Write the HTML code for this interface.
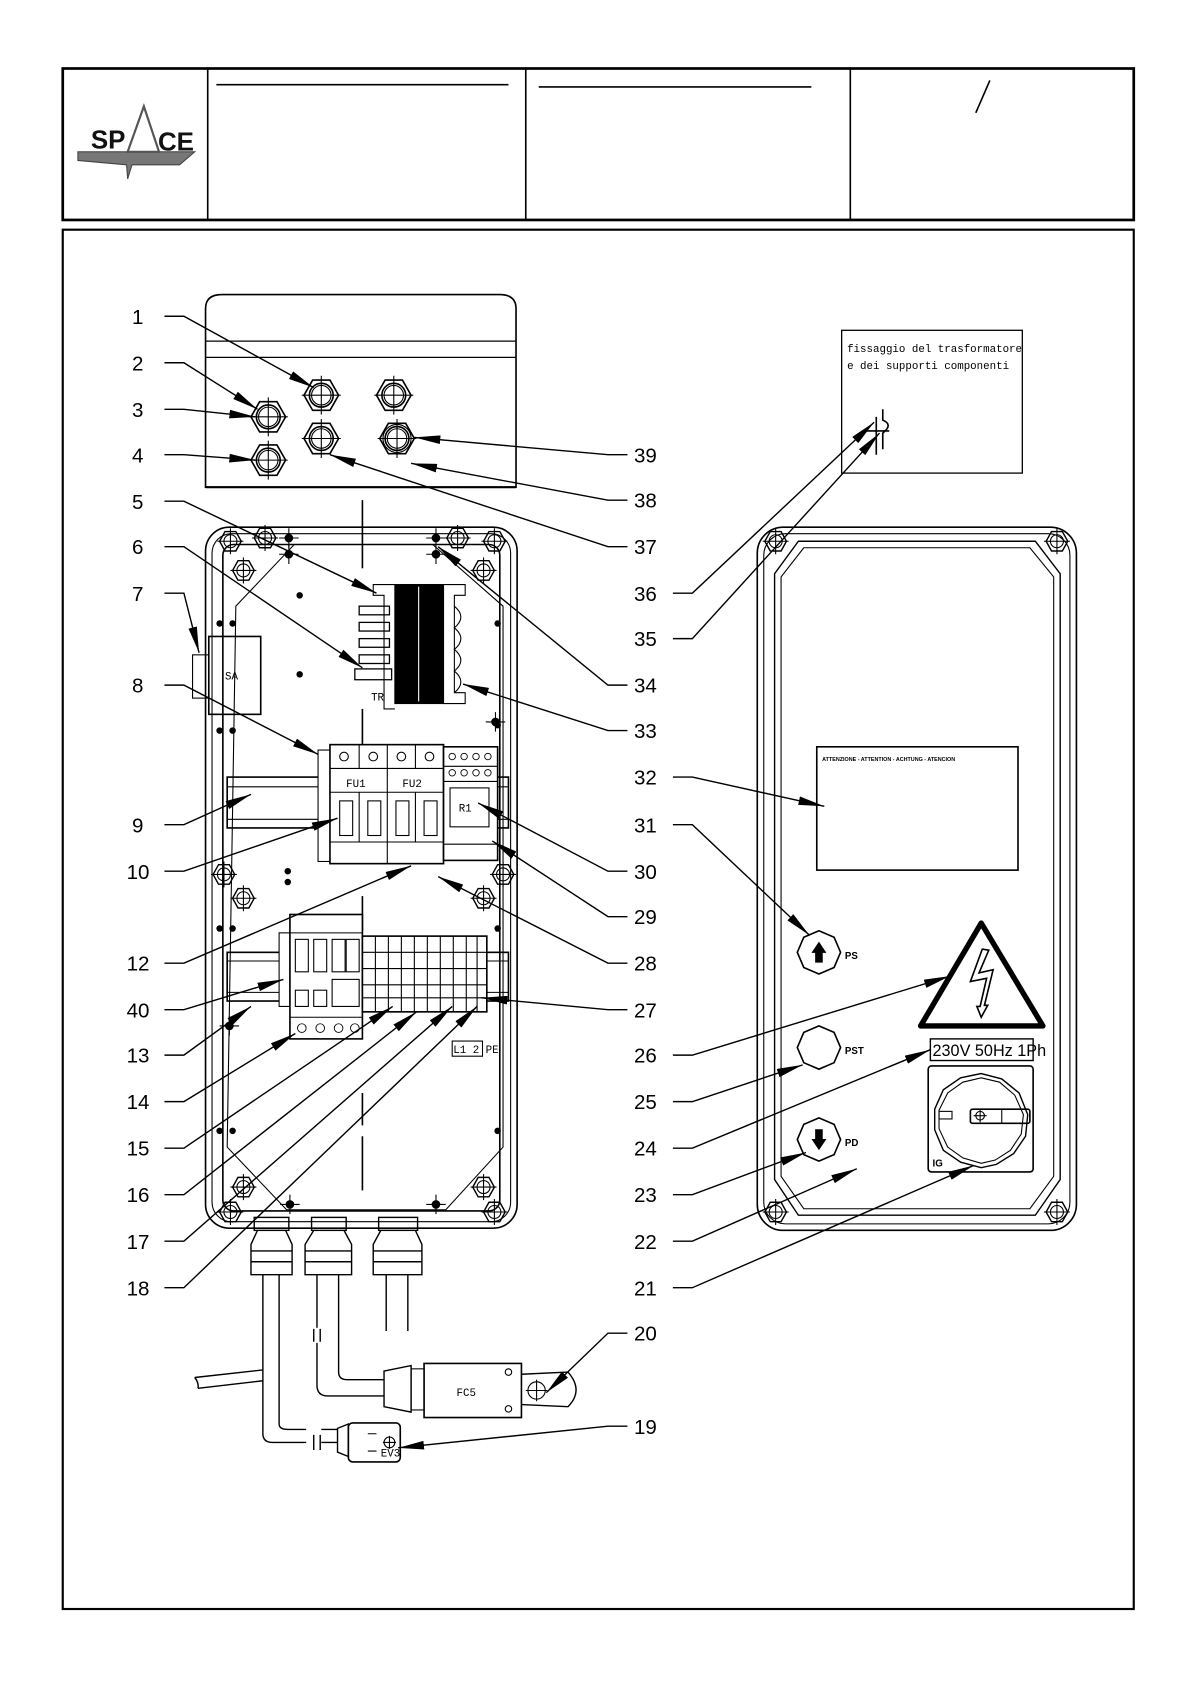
<!DOCTYPE html>
<html><head><meta charset="utf-8"><style>
html,body{margin:0;padding:0;background:#fff}
svg{display:block}
text{font-family:"Liberation Sans",sans-serif}
.n{font-size:19px}
.s{font-size:10px;font-family:"Liberation Mono",monospace}
</style></head><body>
<svg width="1190" height="1684" viewBox="0 0 1100 1556" xmlns="http://www.w3.org/2000/svg" fill="none" stroke="#000">
<defs>
<marker id="a" viewBox="0 0 24 8" refX="24" refY="4" markerWidth="24" markerHeight="8" markerUnits="userSpaceOnUse" orient="auto"><path d="M0,0 L24,4 L0,8 Z" fill="#000" stroke="none"/></marker>
<g id="gl"><polygon points="16,0 8,14 -8,14 -16,0 -8,-14 8,-14" stroke-width="1.5"/><circle r="11" stroke-width="1.5"/><circle r="9"/><path d="M-18,0H18M0,-18V18"/></g>
<g id="sc"><polygon points="10,0 5,9 -5,9 -10,0 -5,-9 5,-9" stroke-width="1.3"/><circle r="6"/><path d="M-12,0H12M0,-12V12"/></g>
<g id="dot"><circle r="3.5" fill="#000"/><path d="M-9,0H9M0,-9V9"/></g>
</defs>
<!-- header -->
<rect x="58" y="63" width="990" height="140" stroke-width="2.5"/>
<path d="M192,63V203M486,63V203M786,63V203" stroke-width="1.5"/>
<path d="M200,78H470M498,80H750" stroke-width="1.5"/>
<path d="M915,74L902,104" stroke-width="1.5"/>
<g>
<path d="M72,140 L180,140 L166,152 L122,152 L118,165 L117,152 L72,148 Z" fill="#777" stroke="#444"/>
<path d="M118,140 L133,98 L147,140 Z" fill="#fff" stroke="#555" stroke-width="2"/>
<text x="84" y="137" font-size="24" font-weight="bold" fill="#111" stroke="none" style="font-family:'Liberation Sans Narrow','Liberation Sans',sans-serif">SP</text>
<text x="146" y="139" font-size="24" font-weight="bold" fill="#111" stroke="none" style="font-family:'Liberation Sans Narrow','Liberation Sans',sans-serif">CE</text>
</g>
<!-- main frame -->
<rect x="58" y="212" width="990" height="1275" stroke-width="2"/>

<!-- top view box -->
<path d="M190,450 V285 Q190,272 205,272 H462 Q477,272 477,285 V450 Z" stroke-width="1.5"/>
<path d="M190,315H477M190,330H477" stroke-width="1.2"/>
<path d="M190,450H477" stroke-width="2"/>
<use href="#gl" x="297" y="365"/><use href="#gl" x="364" y="365"/>
<use href="#gl" x="248" y="385"/><use href="#gl" x="248" y="425"/>
<use href="#gl" x="297" y="405"/><use href="#gl" x="367" y="405"/>
<circle cx="367" cy="405" r="13"/>
<path d="M335,462V525" stroke-width="1.5"/>

<!-- main enclosure -->
<rect x="190" y="487" width="288" height="648" rx="22" stroke-width="1.5"/>
<rect x="196" y="493" width="276" height="636" rx="18"/>
<rect x="206" y="503" width="256" height="616" rx="10" stroke-width="1.5"/>
<path d="M218,560 L272,503 H400 L465,560 V1060 L412,1118 H265 L210,1060 Z"/>
<use href="#sc" x="213" y="500"/><use href="#sc" x="457" y="500"/>
<use href="#sc" x="213" y="1120"/><use href="#sc" x="457" y="1120"/>
<use href="#sc" x="225" y="527"/><use href="#sc" x="447" y="527"/>
<use href="#sc" x="225" y="830"/><use href="#sc" x="447" y="830"/>
<use href="#sc" x="207" y="808"/><use href="#sc" x="465" y="808"/>
<use href="#sc" x="245" y="497"/><use href="#sc" x="423" y="497"/>
<use href="#sc" x="225" y="1097"/><use href="#sc" x="447" y="1097"/>
<use href="#dot" x="267" y="497"/><use href="#dot" x="267" y="512"/>
<use href="#dot" x="403" y="497"/><use href="#dot" x="403" y="512"/>
<use href="#dot" x="458" y="667"/><use href="#dot" x="212" y="948"/>
<use href="#dot" x="268" y="1113"/><use href="#dot" x="403" y="1113"/>
<g fill="#000" stroke="none">
<circle cx="203" cy="576" r="3"/><circle cx="215" cy="576" r="3"/><circle cx="203" cy="675" r="3"/><circle cx="215" cy="675" r="3"/>
<circle cx="460" cy="576" r="3"/><circle cx="460" cy="670" r="3"/><circle cx="203" cy="858" r="3"/><circle cx="215" cy="858" r="3"/>
<circle cx="460" cy="858" r="3"/><circle cx="203" cy="1045" r="3"/><circle cx="215" cy="1045" r="3"/><circle cx="460" cy="1045" r="3"/>
<circle cx="266" cy="805" r="3"/><circle cx="266" cy="815" r="3"/><circle cx="277" cy="550" r="3"/><circle cx="277" cy="623" r="3"/>
</g>
<!-- SA -->
<rect x="178" y="605" width="15" height="40"/>
<rect x="193" y="588" width="48" height="72" stroke-width="1.5"/>
<text x="208" y="628" class="s" fill="#000" stroke="none">SA</text>
<!-- transformer -->
<rect x="365" y="540" width="45" height="110" fill="#000"/>
<path d="M387,542V648" stroke="#fff"/>
<path d="M365,540H345V550H355V655H365M410,540H430V550H420V640H430V650H410"/>
<path d="M420,560 q12,10 0,20 q12,10 0,20 q12,10 0,20 q12,10 0,20"/>
<g stroke-width="1.2"><rect x="332" y="560" width="28" height="8"/><rect x="332" y="575" width="28" height="8"/><rect x="332" y="590" width="28" height="8"/><rect x="332" y="605" width="28" height="8"/><rect x="328" y="618" width="34" height="10"/></g>
<text x="343" y="647" class="s" fill="#000" stroke="none">TR</text>
<path d="M335,655V700" stroke-width="1.5"/>
<!-- DIN rail 1 -->
<rect x="210" y="718" width="260" height="47" stroke-width="1.5"/><path d="M210,727H470M210,757H470"/>
<!-- fuse block -->
<rect x="294" y="693" width="12" height="103" fill="#fff"/>
<rect x="305" y="688" width="105" height="110" fill="#fff" stroke-width="1.5"/>
<path d="M305,710H410M305,732H410M332,688V710M358,688V798M384,688V710M305,778H410M332,732V778M384,732V778"/>
<circle cx="318" cy="699" r="4"/><circle cx="345" cy="699" r="4"/><circle cx="371" cy="699" r="4"/><circle cx="397" cy="699" r="4"/>
<text x="320" y="727" class="s" fill="#000" stroke="none">FU1</text><text x="372" y="727" class="s" fill="#000" stroke="none">FU2</text>
<rect x="314" y="740" width="12" height="32"/><rect x="340" y="740" width="12" height="32"/><rect x="366" y="740" width="12" height="32"/><rect x="392" y="740" width="12" height="32"/>
<!-- R1 -->
<rect x="410" y="690" width="50" height="105" fill="#fff" stroke-width="1.5"/><path d="M410,708H460M410,722H460M410,780H460"/>
<rect x="416" y="728" width="36" height="36"/><text x="424" y="750" class="s" fill="#000" stroke="none">R1</text>
<g stroke-width="0.8"><circle cx="418" cy="699" r="3"/><circle cx="429" cy="699" r="3"/><circle cx="440" cy="699" r="3"/><circle cx="451" cy="699" r="3"/><circle cx="418" cy="714" r="3"/><circle cx="429" cy="714" r="3"/><circle cx="440" cy="714" r="3"/><circle cx="451" cy="714" r="3"/></g>
<path d="M335,828V860" stroke-width="1.5"/>
<!-- DIN rail 2 -->
<rect x="210" y="880" width="260" height="45" stroke-width="1.5"/><path d="M210,888H470M210,917H470"/>
<!-- contactor -->
<rect x="258" y="862" width="10" height="68" fill="#fff"/>
<rect x="268" y="845" width="67" height="115" fill="#fff" stroke-width="1.5"/>
<path d="M268,862H335M268,940H335"/>
<rect x="273" y="868" width="12" height="30"/><rect x="290" y="868" width="12" height="30"/><rect x="307" y="868" width="12" height="30"/><rect x="320" y="868" width="12" height="30"/>
<rect x="273" y="915" width="12" height="15"/><rect x="290" y="915" width="12" height="15"/><rect x="307" y="905" width="25" height="25"/>
<g stroke-width="0.8"><circle cx="279" cy="950" r="4"/><circle cx="296" cy="950" r="4"/><circle cx="313" cy="950" r="4"/><circle cx="328" cy="950" r="4"/></g>
<!-- terminals -->
<rect x="335" y="865" width="115" height="70" fill="#fff" stroke-width="1.5"/>
<path d="M335,880H450M335,895H450M335,910H450M335,922H450M347,865V935M359,865V935M371,865V935M383,865V935M395,865V935M407,865V935M419,865V935M431,865V935M441,865V935"/>
<rect x="418" y="962" width="28" height="14"/><text x="419" y="973" class="s" fill="#000" stroke="none" font-size="8">L1 2 PE</text>
<path d="M335,1010V1040M335,1050V1100" stroke-width="1.5"/>
<!-- bottom glands -->
<g stroke-width="1.3">
<rect x="235" y="1125" width="32" height="12"/><path d="M238,1137 L232,1150 L232,1178 L270,1178 L270,1150 L264,1137"/><path d="M232,1156H270M232,1166H270"/>
<rect x="288" y="1125" width="32" height="12"/><path d="M290,1137 L282,1150 L282,1178 L325,1178 L325,1150 L318,1137"/><path d="M282,1156H325M282,1166H325"/>
<rect x="350" y="1125" width="36" height="12"/><path d="M352,1137 L345,1150 L345,1178 L390,1178 L390,1150 L384,1137"/><path d="M345,1156H390M345,1166H390"/>
</g>
<!-- cables -->
<path d="M243,1178 V1325 Q243,1333 252,1333 H283" stroke-width="1.3"/>
<path d="M258,1178 V1316 Q258,1321 266,1321 H283" stroke-width="1.3"/>
<path d="M290,1326V1340M296,1326V1340M290,1228V1240M296,1228V1240" stroke-width="1.3"/>
<path d="M180,1273 L243,1266 M183,1283 L243,1276 M180,1273 q4,5 3,10" stroke-width="1.3"/>
<path d="M293,1178 V1227 M293,1241 V1280 Q293,1290 303,1290 H355 M313,1178 V1268 Q313,1275 321,1275 H355" stroke-width="1.3"/>
<path d="M297,1333 H312 M297,1321 H312" stroke-width="1.3"/>
<path d="M357,1178 V1230 M377,1178 V1230" stroke-width="1.3"/>
<!-- FC5 -->
<path d="M355,1267 L380,1262 V1305 L355,1300 Z" stroke-width="1.3"/>
<rect x="380" y="1265" width="12" height="38"/>
<rect x="392" y="1260" width="90" height="50" stroke-width="1.5"/>
<text x="422" y="1290" class="s" fill="#000" stroke="none">FC5</text>
<path d="M482,1270 L525,1268 Q540,1285 525,1300 L482,1298" stroke-width="1.3"/>
<circle cx="496" cy="1285" r="8"/><path d="M486,1285H506M496,1275V1295"/>
<circle cx="470" cy="1268" r="3"/><circle cx="470" cy="1302" r="3"/>
<!-- EV3 -->
<path d="M312,1320 L322,1316 V1346 L312,1342 Z" stroke-width="1.3"/>
<rect x="322" y="1315" width="48" height="36" rx="4" stroke-width="1.5"/>
<text x="352" y="1346" class="s" fill="#000" stroke="none">EV3</text>
<path d="M340,1325H348M340,1341H348"/><circle cx="360" cy="1333" r="5"/><path d="M354,1333H366M360,1327V1339"/>

<!-- detail box -->
<rect x="778" y="305" width="167" height="132" stroke-width="1.2"/>
<text x="783" y="325" class="s" fill="#000" stroke="none">fissaggio del trasformatore</text>
<text x="783" y="341" class="s" fill="#000" stroke="none">e dei supporti componenti</text>
<path d="M810,385 V420 M816,378 V388 Q826,392 816,400 V415 M800,398 H822" stroke-width="1.5"/>

<!-- right panel -->
<rect x="700" y="487" width="295" height="650" rx="24" stroke-width="1.5"/>
<rect x="706" y="493" width="283" height="638" rx="20"/>
<path d="M738,500 L716,530 V1090 L738,1123 H957 L980,1090 V530 L957,500 Z" stroke-width="1.3"/>
<path d="M743,506 L722,533 V1087 L743,1117 H952 L974,1087 V533 L952,506 Z"/>
<use href="#sc" x="717" y="500"/><use href="#sc" x="977" y="500"/><use href="#sc" x="717" y="1120"/><use href="#sc" x="977" y="1120"/>
<rect x="755" y="690" width="186" height="114" stroke-width="1.5"/>
<text x="760" y="703" fill="#000" stroke="none" style="font-size:5px;font-weight:bold">ATTENZIONE - ATTENTION - ACHTUNG - ATENCION</text>
<!-- buttons -->
<polygon points="777,880 771,894 757,900 743,894 737,880 743,866 757,860 771,866" stroke-width="1.5"/>
<path d="M757,871 L751,880 H754 V889 H760 V880 H763 Z" fill="#000"/>
<text x="781" y="886" fill="#000" stroke="none" style="font-size:9px;font-weight:bold">PS</text>
<polygon points="777,968 771,982 757,988 743,982 737,968 743,954 757,948 771,954" stroke-width="1.5"/>
<text x="781" y="974" fill="#000" stroke="none" style="font-size:9px;font-weight:bold">PST</text>
<polygon points="777,1053 771,1067 757,1073 743,1067 737,1053 743,1039 757,1033 771,1039" stroke-width="1.5"/>
<path d="M757,1062 L751,1053 H754 V1044 H760 V1053 H763 Z" fill="#000"/>
<text x="781" y="1059" fill="#000" stroke="none" style="font-size:9px;font-weight:bold">PD</text>
<!-- warning -->
<path d="M907,853 L964,948 H851 Z" stroke-width="5" stroke-linejoin="round"/>
<path d="M908,877 L897,907 L912,904 L906,930 L903,930 L907,940 L913,929 L910,929 L918,896 L905,899 L914,878 Z" stroke-width="1.5"/>
<rect x="860" y="960" width="95" height="20" stroke-width="1.3"/>
<text x="862" y="976" fill="#000" stroke="none" style="font-size:15px;font-family:'Liberation Sans Narrow','Liberation Sans',sans-serif">230V 50Hz 1Ph</text>
<rect x="858" y="985" width="97" height="98" rx="3" stroke-width="1.5"/>
<polygon points="907,992 926,997 942,1010 950,1030 948,1050 937,1066 921,1076 907,1079 888,1074 872,1063 864,1044 864,1025 872,1007 888,996" stroke-width="1.3"/>
<polygon points="907,996 924,1000 938,1012 946,1030 944,1048 934,1063 920,1072 907,1075 890,1070 876,1060 868,1043 868,1026 876,1010 890,1000"/>
<rect x="897" y="1025" width="55" height="13" rx="2" stroke-width="1.5"/><path d="M926,1025V1038"/>
<circle cx="906" cy="1031" r="4"/><path d="M900,1031H912M906,1025V1037"/>
<rect x="868" y="1027" width="12" height="7"/>
<text x="862" y="1078" fill="#000" stroke="none" style="font-size:9px;font-weight:bold">IG</text>

<!-- labels -->
<g fill="#000" stroke="none" class="n">
<text x="122" y="299">1</text><text x="122" y="342">2</text><text x="122" y="385">3</text><text x="122" y="427">4</text>
<text x="122" y="470">5</text><text x="122" y="512">6</text><text x="122" y="555">7</text><text x="122" y="640">8</text>
<text x="122" y="769">9</text><text x="117" y="812">10</text><text x="117" y="897">12</text><text x="117" y="940">40</text>
<text x="117" y="982">13</text><text x="117" y="1025">14</text><text x="117" y="1068">15</text><text x="117" y="1111">16</text>
<text x="117" y="1154">17</text><text x="117" y="1197">18</text>
<text x="586" y="427">39</text><text x="586" y="469">38</text><text x="586" y="512">37</text><text x="586" y="555">36</text>
<text x="586" y="597">35</text><text x="586" y="640">34</text><text x="586" y="682">33</text><text x="586" y="725">32</text>
<text x="586" y="769">31</text><text x="586" y="812">30</text><text x="586" y="854">29</text><text x="586" y="897">28</text>
<text x="586" y="940">27</text><text x="586" y="982">26</text><text x="586" y="1025">25</text><text x="586" y="1068">24</text>
<text x="586" y="1111">23</text><text x="586" y="1154">22</text><text x="586" y="1197">21</text><text x="586" y="1239">20</text>
<text x="586" y="1325">19</text>
</g>
<!-- leaders -->
<g stroke-width="1.3" marker-end="url(#a)">
<path d="M152,292H170L290,358"/>
<path d="M152,335H170L238,378"/>
<path d="M152,378H170L236,385"/>
<path d="M152,420H170L236,425"/>
<path d="M152,463H170L348,548"/>
<path d="M152,505H170L335,617"/>
<path d="M152,548H170L184,603"/>
<path d="M152,633H170L294,697"/>
<path d="M152,762H170L232,734"/>
<path d="M152,805H170L312,756"/>
<path d="M152,890H170L380,800"/>
<path d="M152,933H170L262,905"/>
<path d="M152,975H170L232,930"/>
<path d="M152,1018H170L273,955"/>
<path d="M152,1061H170L363,930"/>
<path d="M152,1104H170L385,935"/>
<path d="M152,1147H170L418,930"/>
<path d="M152,1190H170L441,930"/>
<path d="M580,420H562L383,404"/>
<path d="M580,462H562L380,428"/>
<path d="M580,505H562L305,420"/>
<path d="M622,548H640L808,390"/>
<path d="M622,590H640L813,400"/>
<path d="M580,633H562L405,505"/>
<path d="M580,675H562L428,632"/>
<path d="M622,718H640L762,745"/>
<path d="M622,762H640L748,864"/>
<path d="M580,805H562L442,742"/>
<path d="M580,847H562L455,777"/>
<path d="M580,890H562L405,810"/>
<path d="M580,933H562L445,922"/>
<path d="M622,975H640L878,902"/>
<path d="M622,1018H640L742,984"/>
<path d="M622,1061H640L860,970"/>
<path d="M622,1104H640L745,1065"/>
<path d="M622,1147H640L792,1080"/>
<path d="M622,1190H640L900,1077"/>
<path d="M580,1232H562L505,1287"/>
<path d="M580,1318H562L368,1338"/>
</g>
</svg>
</body></html>
